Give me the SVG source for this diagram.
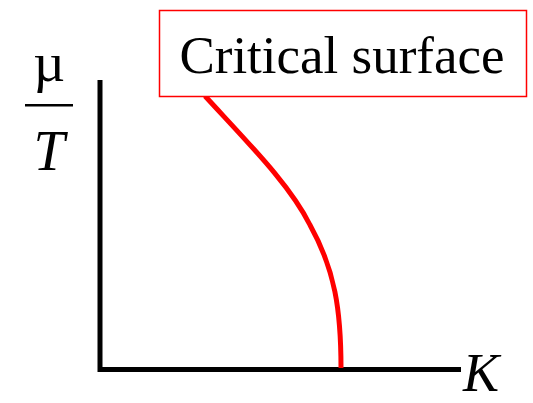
<svg xmlns="http://www.w3.org/2000/svg" width="533" height="403" viewBox="0 0 533 403">
<style>
.lbl{font-family:"Liberation Serif","Times New Roman",serif;fill:#000}
.ax{stroke:#000;stroke-width:5;fill:none}
</style>
<rect width="533" height="403" fill="#fff"/>
<g id="axes" class="connectors">
<path class="ax" d="M100,80 V369.5 H461"/>
</g>
<g id="curve">
<path d="M205,96 C250,145 290,185 310,225 C335,270 341,310 341,368" fill="none" stroke="#ff0000" stroke-width="5"/>
</g>
<g id="critical-surface">
<rect x="159.5" y="10.5" width="367" height="86" fill="#fff" stroke="#ff0000" stroke-width="1.5"/>
<text class="lbl" x="342" y="73" font-size="53" text-anchor="middle">Critical surface</text>
</g>
<g id="y-label">
<text class="lbl" x="49" y="81" font-size="55" text-anchor="middle">µ</text>
<rect x="25" y="104" width="48" height="2.5" fill="#000"/>
<text class="lbl" x="49" y="170" font-size="56" font-style="italic" text-anchor="middle">T</text>
</g>
<g id="x-label">
<text class="lbl" x="463" y="391" font-size="54" font-style="italic">K</text>
</g>
</svg>
